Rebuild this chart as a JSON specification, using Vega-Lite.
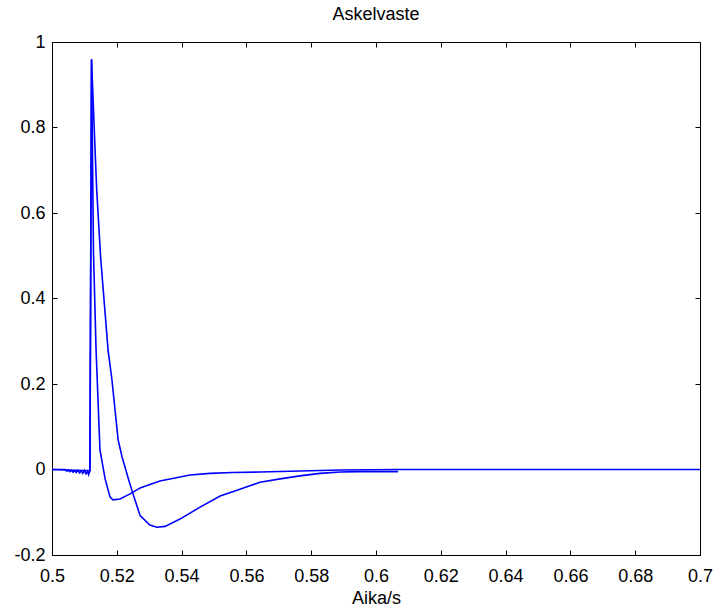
{
  "$schema": "https://vega.github.io/schema/vega-lite/v6.json",
  "width": 648,
  "height": 513,
  "autosize": {"type": "none"},
  "padding": {"left": 52, "top": 42, "right": 22, "bottom": 54},
  "background": "white",
  "title": {"text": "Askelvaste", "font": "Liberation Sans", "fontSize": 18, "fontWeight": "normal", "color": "black", "offset": 9},
  "config": {
    "view": {"stroke": "black", "strokeWidth": 1},
    "axis": {
      "grid": false, "domainColor": "black", "tickColor": "black", "labelColor": "black", "titleColor": "black",
      "labelFont": "Liberation Sans", "labelFontSize": 18, "titleFont": "Liberation Sans", "titleFontSize": 18, "titleFontWeight": "normal",
      "tickSize": -5, "labelFlush": false, "labelOverlap": false
    }
  },
  "datasets": {
    "sig": [
      {"t": 0.5, "v": 0, "s": "a"},
      {"t": 0.504, "v": 0, "s": "a"},
      {"t": 0.5046, "v": -0.004, "s": "a"},
      {"t": 0.505, "v": -0.001, "s": "a"},
      {"t": 0.5055, "v": -0.005, "s": "a"},
      {"t": 0.506, "v": -0.002, "s": "a"},
      {"t": 0.5065, "v": -0.006, "s": "a"},
      {"t": 0.507, "v": -0.003, "s": "a"},
      {"t": 0.5075, "v": -0.007, "s": "a"},
      {"t": 0.508, "v": -0.002, "s": "a"},
      {"t": 0.5085, "v": -0.008, "s": "a"},
      {"t": 0.509, "v": -0.003, "s": "a"},
      {"t": 0.5095, "v": -0.009, "s": "a"},
      {"t": 0.51, "v": -0.002, "s": "a"},
      {"t": 0.5105, "v": -0.01, "s": "a"},
      {"t": 0.511, "v": -0.004, "s": "a"},
      {"t": 0.5113, "v": -0.012, "s": "a"},
      {"t": 0.5117, "v": -0.003, "s": "a"},
      {"t": 0.5122, "v": 0.96, "s": "a"},
      {"t": 0.5128, "v": 0.51, "s": "a"},
      {"t": 0.5136, "v": 0.28, "s": "a"},
      {"t": 0.5148, "v": 0.046, "s": "a"},
      {"t": 0.5164, "v": -0.022, "s": "a"},
      {"t": 0.5179, "v": -0.064, "s": "a"},
      {"t": 0.5188, "v": -0.071, "s": "a"},
      {"t": 0.521, "v": -0.069, "s": "a"},
      {"t": 0.5241, "v": -0.057, "s": "a"},
      {"t": 0.5272, "v": -0.043, "s": "a"},
      {"t": 0.5333, "v": -0.027, "s": "a"},
      {"t": 0.5426, "v": -0.013, "s": "a"},
      {"t": 0.5488, "v": -0.009, "s": "a"},
      {"t": 0.5556, "v": -0.007, "s": "a"},
      {"t": 0.5642, "v": -0.006, "s": "a"},
      {"t": 0.5735, "v": -0.004, "s": "a"},
      {"t": 0.5889, "v": -0.001, "s": "a"},
      {"t": 0.6074, "v": 0, "s": "a"},
      {"t": 0.7, "v": 0, "s": "a"},
      {"t": 0.5, "v": 0, "s": "b"},
      {"t": 0.5117, "v": -0.003, "s": "b"},
      {"t": 0.5122, "v": 0.958, "s": "b"},
      {"t": 0.5133, "v": 0.747, "s": "b"},
      {"t": 0.5138, "v": 0.654, "s": "b"},
      {"t": 0.515, "v": 0.497, "s": "b"},
      {"t": 0.5173, "v": 0.28, "s": "b"},
      {"t": 0.5185, "v": 0.21, "s": "b"},
      {"t": 0.5204, "v": 0.07, "s": "b"},
      {"t": 0.5216, "v": 0.03, "s": "b"},
      {"t": 0.5235, "v": -0.02, "s": "b"},
      {"t": 0.5247, "v": -0.05, "s": "b"},
      {"t": 0.5262, "v": -0.085, "s": "b"},
      {"t": 0.5272, "v": -0.108, "s": "b"},
      {"t": 0.5302, "v": -0.13, "s": "b"},
      {"t": 0.5324, "v": -0.135, "s": "b"},
      {"t": 0.5349, "v": -0.133, "s": "b"},
      {"t": 0.5395, "v": -0.116, "s": "b"},
      {"t": 0.5457, "v": -0.088, "s": "b"},
      {"t": 0.5519, "v": -0.062, "s": "b"},
      {"t": 0.558, "v": -0.046, "s": "b"},
      {"t": 0.5642, "v": -0.03, "s": "b"},
      {"t": 0.5704, "v": -0.022, "s": "b"},
      {"t": 0.5765, "v": -0.015, "s": "b"},
      {"t": 0.5827, "v": -0.009, "s": "b"},
      {"t": 0.5889, "v": -0.006, "s": "b"},
      {"t": 0.595, "v": -0.005, "s": "b"},
      {"t": 0.6068, "v": -0.005, "s": "b"}
    ]
  },
  "data": {"name": "sig"},
  "layer": [
    {
      "mark": {"type": "line", "color": "#0000ff", "strokeWidth": 1.6, "clip": true},
      "encoding": {
        "x": {"field": "t", "type": "quantitative", "scale": {"domain": [0.5, 0.7], "nice": false, "zero": false},
          "axis": {"orient": "bottom", "title": "Aika/s", "values": [0.5, 0.52, 0.54, 0.56, 0.58, 0.6, 0.62, 0.64, 0.66, 0.68, 0.7], "labelExpr": "'' + datum.value", "labelPadding": 17, "titlePadding": 4}},
        "y": {"field": "v", "type": "quantitative", "scale": {"domain": [-0.2, 1], "nice": false, "zero": false},
          "axis": {"orient": "left", "title": null, "values": [-0.2, 0, 0.2, 0.4, 0.6, 0.8, 1], "labelExpr": "'' + datum.value", "labelPadding": 12}},
        "detail": {"field": "s", "type": "nominal"}
      }
    },
    {
      "mark": {"type": "point", "opacity": 0},
      "encoding": {
        "x": {"field": "t", "type": "quantitative", "scale": {"domain": [0.5, 0.7], "nice": false, "zero": false},
          "axis": {"orient": "top", "title": null, "labels": false, "values": [0.5, 0.52, 0.54, 0.56, 0.58, 0.6, 0.62, 0.64, 0.66, 0.68, 0.7]}},
        "y": {"field": "v", "type": "quantitative", "scale": {"domain": [-0.2, 1], "nice": false, "zero": false},
          "axis": {"orient": "right", "title": null, "labels": false, "values": [-0.2, 0, 0.2, 0.4, 0.6, 0.8, 1]}}
      }
    }
  ],
  "resolve": {"scale": {"x": "shared", "y": "shared"}, "axis": {"x": "independent", "y": "independent"}}
}
